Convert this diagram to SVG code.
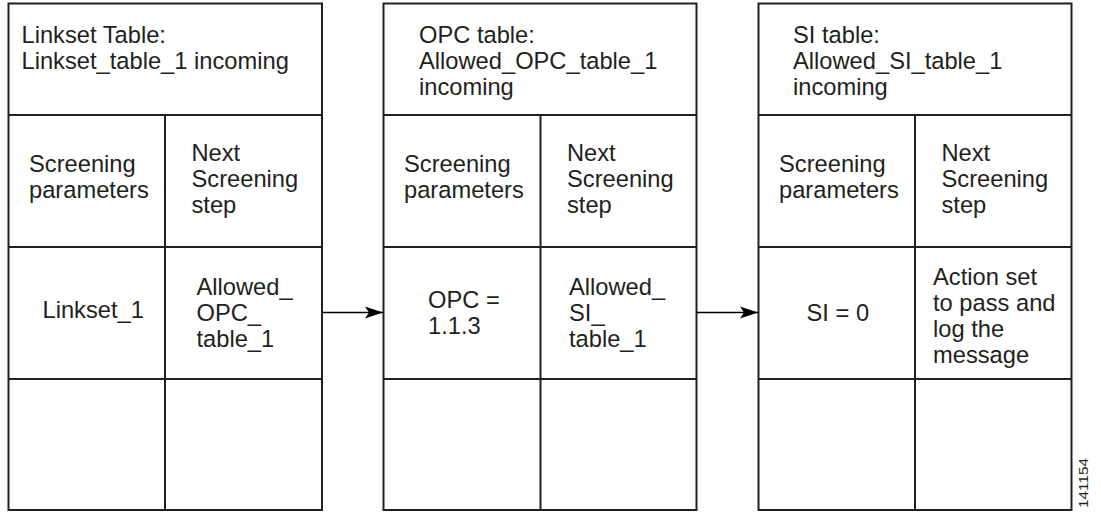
<svg xmlns="http://www.w3.org/2000/svg" width="1101" height="512" viewBox="0 0 1101 512">
<style>
.b{fill:none;stroke:#231f20;stroke-width:2}
.t{font-family:"Liberation Sans",Arial,sans-serif;font-size:23.7px;fill:#231f20}
.c{stroke:#000;stroke-width:1.5;fill:none}
</style>
<defs>
<marker id="ah" markerUnits="userSpaceOnUse" markerWidth="19" markerHeight="14" refX="18" refY="7" orient="auto">
<path d="M0,1 L18,7 L0,13 L4,7 Z" fill="#000"/>
</marker>
</defs>
<rect width="1101" height="512" fill="#fff"/>
<g id="linkset-table">
<rect class="b" x="8.5" y="3.5" width="313.5" height="506.5"/>
<line class="b" x1="8.5" y1="115" x2="322" y2="115"/>
<line class="b" x1="8.5" y1="247" x2="322" y2="247"/>
<line class="b" x1="8.5" y1="379" x2="322" y2="379"/>
<line class="b" x1="165" y1="115" x2="165" y2="510"/>
<text class="t"><tspan x="21.5" y="42.5">Linkset Table:</tspan><tspan x="21.5" y="69">Linkset_table_1 incoming</tspan></text>
<text class="t"><tspan x="29" y="172">Screening</tspan><tspan x="29" y="198">parameters</tspan></text>
<text class="t"><tspan x="191.5" y="161">Next</tspan><tspan x="191.5" y="187">Screening</tspan><tspan x="191.5" y="213">step</tspan></text>
<text class="t" x="42.5" y="318">Linkset_1</text>
<text class="t"><tspan x="196.5" y="295">Allowed_</tspan><tspan x="196.5" y="321">OPC_</tspan><tspan x="196.5" y="347">table_1</tspan></text>
</g>
<g id="opc-table">
<rect class="b" x="383.5" y="3.5" width="313" height="506.5"/>
<line class="b" x1="383.5" y1="115" x2="696.5" y2="115"/>
<line class="b" x1="383.5" y1="247" x2="696.5" y2="247"/>
<line class="b" x1="383.5" y1="379" x2="696.5" y2="379"/>
<line class="b" x1="540.5" y1="115" x2="540.5" y2="510"/>
<text class="t"><tspan x="419" y="42.5">OPC table:</tspan><tspan x="419" y="69">Allowed_OPC_table_1</tspan><tspan x="419" y="95">incoming</tspan></text>
<text class="t"><tspan x="404" y="172">Screening</tspan><tspan x="404" y="198">parameters</tspan></text>
<text class="t"><tspan x="567" y="161">Next</tspan><tspan x="567" y="187">Screening</tspan><tspan x="567" y="213">step</tspan></text>
<text class="t"><tspan x="428" y="308">OPC =</tspan><tspan x="428" y="334">1.1.3</tspan></text>
<text class="t"><tspan x="569" y="295">Allowed_</tspan><tspan x="569" y="321">SI_</tspan><tspan x="569" y="347">table_1</tspan></text>
</g>
<g id="si-table">
<rect class="b" x="758.5" y="3.5" width="313" height="506.5"/>
<line class="b" x1="758.5" y1="115" x2="1071.5" y2="115"/>
<line class="b" x1="758.5" y1="247" x2="1071.5" y2="247"/>
<line class="b" x1="758.5" y1="379" x2="1071.5" y2="379"/>
<line class="b" x1="915" y1="115" x2="915" y2="510"/>
<text class="t"><tspan x="793" y="42.5">SI table:</tspan><tspan x="793" y="69">Allowed_SI_table_1</tspan><tspan x="793" y="95">incoming</tspan></text>
<text class="t"><tspan x="779" y="172">Screening</tspan><tspan x="779" y="198">parameters</tspan></text>
<text class="t"><tspan x="941.5" y="161">Next</tspan><tspan x="941.5" y="187">Screening</tspan><tspan x="941.5" y="213">step</tspan></text>
<text class="t" x="806.5" y="320.5">SI = 0</text>
<text class="t"><tspan x="933" y="285">Action set</tspan><tspan x="933" y="311">to pass and</tspan><tspan x="933" y="337">log the</tspan><tspan x="933" y="363">message</tspan></text>
</g>
<g id="connectors">
<line class="c" x1="322" y1="312.5" x2="383" y2="312.5" marker-end="url(#ah)"/>
<line class="c" x1="696.5" y1="312.5" x2="758" y2="312.5" marker-end="url(#ah)"/>
</g>
<text transform="translate(1088,508) rotate(-90)" font-family="Liberation Sans,Arial,sans-serif" font-size="13" fill="#231f20" textLength="50" lengthAdjust="spacingAndGlyphs">141154</text>
</svg>
